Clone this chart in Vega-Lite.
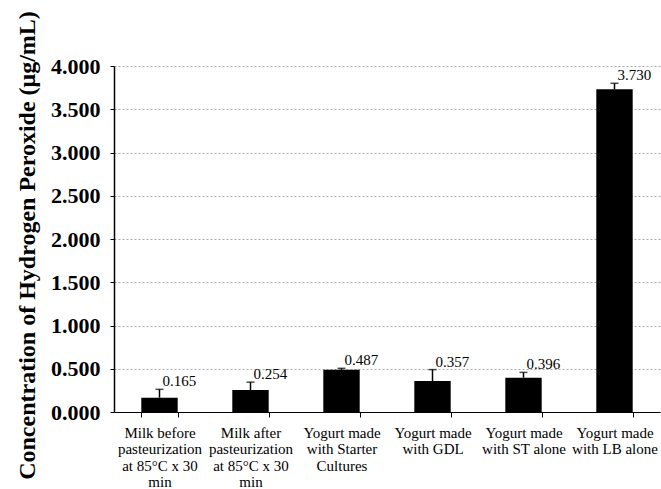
{
  "$schema": "https://vega.github.io/schema/vega-lite/v6.json",
  "width": 546,
  "height": 346,
  "autosize": {"type": "none"},
  "padding": {"left": 114, "top": 66, "right": 1, "bottom": 77},
  "background": "white",
  "config": {
    "view": {"stroke": null},
    "font": "Liberation Serif",
    "axis": {"labelFont": "Liberation Serif", "titleFont": "Liberation Serif"},
    "axisY": {"labelFontSize": 22, "labelFontWeight": "bold"},
    "style": {
      "guide-label": {"font": "Liberation Serif"},
      "guide-title": {"font": "Liberation Serif"}
    }
  },
  "data": {
    "values": [
      {"cat": "Milk before\npasteurization\nat 85°C x 30\nmin", "value": 0.165, "upper": 0.262},
      {"cat": "Milk after\npasteurization\nat 85°C x 30\nmin", "value": 0.254, "upper": 0.345},
      {"cat": "Yogurt made\nwith Starter\nCultures", "value": 0.487, "upper": 0.505},
      {"cat": "Yogurt made\nwith GDL", "value": 0.357, "upper": 0.49},
      {"cat": "Yogurt made\nwith ST alone", "value": 0.396, "upper": 0.458},
      {"cat": "Yogurt made\nwith LB alone", "value": 3.73, "upper": 3.8}
    ]
  },
  "encoding": {
    "x": {
      "field": "cat",
      "type": "nominal",
      "sort": null,
      "scale": {"paddingInner": 0.6, "paddingOuter": 0.3},
      "axis": {
        "title": null,
        "labelAngle": 0,
        "labelExpr": "split(datum.label, '\\n')",
        "labelFont": "Liberation Serif",
        "labelFontSize": 15,
        "labelLineHeight": 16.5,
        "labelColor": "#000",
        "labelBaseline": "top",
        "labelPadding": 8,
        "labelLimit": 200,
        "domainColor": "#000",
        "domainWidth": 1,
        "tickColor": "#000",
        "tickSize": 5,
        "tickBand": "extent",
        "grid": false
      }
    }
  },
  "layer": [
    {
      "mark": {"type": "bar", "color": "#000"},
      "encoding": {
        "y": {
          "field": "value",
          "type": "quantitative",
          "scale": {"domain": [0, 4], "nice": false},
          "axis": {
            "title": "Concentration of Hydrogen Peroxide (μg/mL)",
            "titleFont": "Liberation Serif",
            "titleFontSize": 24,
            "titleFontWeight": "bold",
            "titleColor": "#000",
            "titlePadding": 11,
            "titleY": 179,
            "values": [0, 0.5, 1, 1.5, 2, 2.5, 3, 3.5, 4],
            "format": ".3f",
            "labelFont": "Liberation Serif",
            "labelFontSize": 22,
            "labelFontWeight": "bold",
            "labelColor": "#000",
            "labelPadding": 10,
            "domainColor": "#000",
            "domainWidth": 1.5,
            "tickColor": "#000",
            "tickSize": 4,
            "grid": true,
            "gridColor": "#aaa",
            "gridDash": [2, 2],
            "gridWidth": 1
          }
        }
      }
    },
    {
      "mark": {"type": "rule", "color": "#000", "strokeWidth": 1.5},
      "encoding": {
        "y": {"field": "value", "type": "quantitative"},
        "y2": {"field": "upper"}
      }
    },
    {
      "mark": {"type": "tick", "color": "#000", "size": 8, "thickness": 1.5, "orient": "horizontal"},
      "encoding": {
        "y": {"field": "upper", "type": "quantitative"}
      }
    },
    {
      "mark": {"type": "text", "align": "left", "baseline": "alphabetic", "dx": 3, "dy": -3, "font": "Liberation Serif", "fontSize": 15, "color": "#000"},
      "encoding": {
        "y": {"field": "upper", "type": "quantitative"},
        "text": {"field": "value", "type": "quantitative", "format": ".3f"}
      }
    }
  ]
}
